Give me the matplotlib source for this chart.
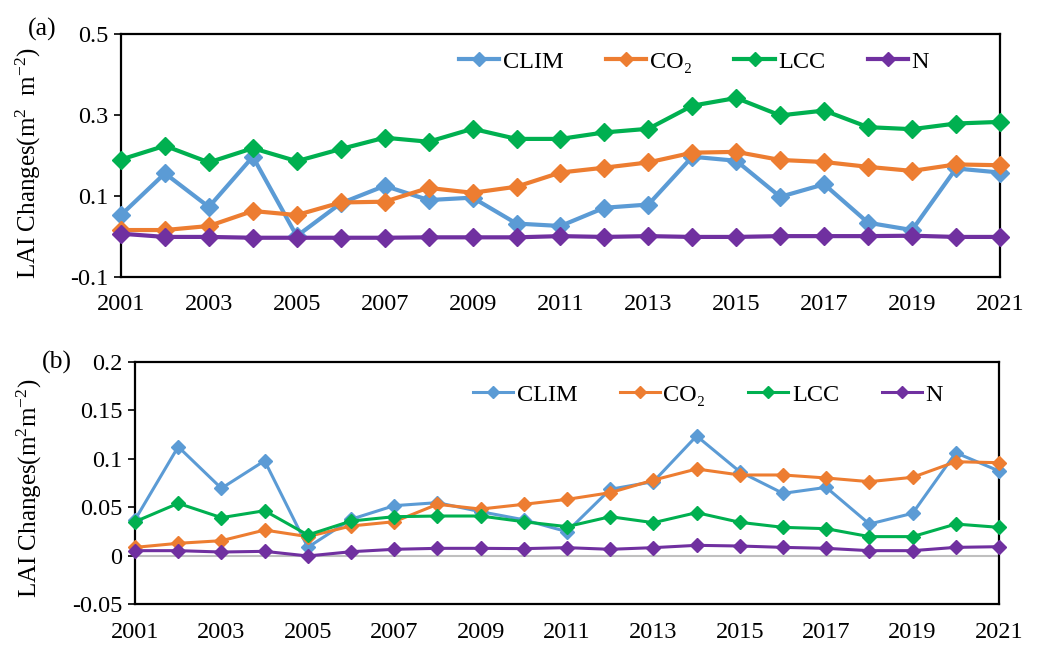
import matplotlib
matplotlib.use("Agg")
import matplotlib.pyplot as plt

plt.rcParams['font.family'] = ['Liberation Serif', 'DejaVu Serif']
plt.rcParams['mathtext.fontset'] = 'custom'
plt.rcParams['mathtext.rm'] = 'Liberation Serif'
plt.rcParams['mathtext.it'] = 'Liberation Serif'

years = list(range(2001, 2022))
series_names = ["CLIM", "CO₂", "LCC", "N"]
colors = ["#5B9BD5", "#ED7D31", "#00B050", "#7030A0"]

# Panel (a)
a_clim = [0.053, 0.156, 0.073, 0.197, 0.001, 0.082, 0.125, 0.090, 0.096, 0.032,
          0.026, 0.071, 0.079, 0.197, 0.187, 0.098, 0.129, 0.034, 0.016, 0.168, 0.158]
a_co2 = [0.016, 0.016, 0.026, 0.063, 0.053, 0.084, 0.086, 0.120, 0.108, 0.123,
         0.158, 0.170, 0.183, 0.207, 0.209, 0.189, 0.184, 0.172, 0.162, 0.178, 0.176]
a_lcc = [0.190, 0.224, 0.183, 0.218, 0.186, 0.216, 0.244, 0.234, 0.266, 0.241,
         0.241, 0.257, 0.266, 0.323, 0.342, 0.299, 0.311, 0.270, 0.265, 0.279, 0.283]
a_n = [0.007, -0.001, -0.001, -0.003, -0.003, -0.003, -0.003, -0.002, -0.002, -0.002,
       0.001, -0.001, 0.001, -0.001, -0.001, 0.001, 0.001, 0.001, 0.002, -0.001, -0.001]

# Panel (b)
b_clim = [0.037, 0.1125, 0.0695, 0.098, 0.0085, 0.0375, 0.0516, 0.0547, 0.0454, 0.037,
          0.0247, 0.0685, 0.0764, 0.1236, 0.0867, 0.0643, 0.0705, 0.0326, 0.0437, 0.1063, 0.0874]
b_co2 = [0.0085, 0.0127, 0.0154, 0.0264, 0.0196, 0.0306, 0.035, 0.053, 0.0481, 0.053,
         0.0581, 0.065, 0.078, 0.0895, 0.0833, 0.0833, 0.0802, 0.0764, 0.0809, 0.097, 0.096]
b_lcc = [0.035, 0.054, 0.0392, 0.0464, 0.0213, 0.0357, 0.0402, 0.0409, 0.0409, 0.035,
         0.0299, 0.0402, 0.034, 0.0444, 0.0344, 0.0292, 0.0278, 0.0196, 0.0196, 0.0326, 0.0292]
b_n = [0.0051, 0.0051, 0.0037, 0.0044, -0.0004, 0.004, 0.0065, 0.0075, 0.0075, 0.0072,
       0.0082, 0.0065, 0.0082, 0.0106, 0.0099, 0.0085, 0.0075, 0.0051, 0.0051, 0.0085, 0.0092]

a_yticks = [-0.1, 0.1, 0.3, 0.5]
a_ylabels = ["-0.1", "0.1", "0.3", "0.5"]
b_yticks = [-0.05, 0, 0.05, 0.1, 0.15, 0.2]
b_ylabels = ["-0.05", "0", "0.05", "0.1", "0.15", "0.2"]
xticks = list(range(2001, 2022, 2))

fig = plt.figure(figsize=(10.63, 6.5), dpi=100)
ax1 = fig.add_axes([0.1138, 0.5738, 0.9407 - 0.1138, 0.9477 - 0.5738])
ax2 = fig.add_axes([0.127, 0.0708, 0.9398 - 0.127, 0.443 - 0.0708])

FS = 17.5

def style(ax, yticks, ylabels, ylim, ylabel, xpad, lw_spine=1.6):
    ax.set_xlim(2001, 2021)
    ax.set_ylim(*ylim)
    ax.set_xticks(xticks)
    ax.set_xticklabels([str(x) for x in xticks], fontsize=FS)
    ax.set_yticks(yticks)
    ax.set_yticklabels(ylabels, fontsize=FS)
    ax.tick_params(axis='x', length=0, pad=xpad)
    ax.tick_params(axis='y', length=5, width=1.2, direction='out', pad=4)
    for s in ax.spines.values():
        s.set_linewidth(lw_spine)
        s.set_color('black')
    ax.set_ylabel(ylabel, fontsize=FS + 0.5)

data_a = [a_clim, a_co2, a_lcc, a_n]
data_b = [b_clim, b_co2, b_lcc, b_n]

for vals, name, c in zip(data_a, series_names, colors):
    ax1.plot(years, vals, color=c, lw=3, marker='D', ms=9, label=name, clip_on=False, zorder=3)
for vals, name, c in zip(data_b, series_names, colors):
    ax2.plot(years, vals, color=c, lw=2.2, marker='D', ms=7.5, label=name, clip_on=False, zorder=3)

ax2.axhline(0, color='#BFBFBF', lw=1.5, zorder=1)

style(ax1, a_yticks, a_ylabels, (-0.1, 0.5), r"LAI Changes(m$^{2}$  m$^{-2}$)", 12)
style(ax2, b_yticks, b_ylabels, (-0.05, 0.2), r"LAI Changes(m$^{2}$m$^{-2}$)", 13)
ax1.yaxis.set_label_coords(-0.089, 0.47)
ax2.yaxis.set_label_coords(-0.105, 0.48)

leg_kw = dict(loc='center', ncol=4, frameon=False, fontsize=FS, handlelength=1.65,
              handletextpad=0.15, columnspacing=1.75, borderaxespad=0, markerscale=0.75)
ax1.legend(bbox_to_anchor=(0.652, 0.885), **leg_kw)
ax2.legend(bbox_to_anchor=(0.663, 0.864), **leg_kw)

fig.text(42 / 1063, 1 - 29 / 650, "(a)", fontsize=FS + 1, ha='center', va='center')
fig.text(57 / 1063, 1 - 362 / 650, "(b)", fontsize=FS + 1, ha='center', va='center')

fig.savefig("out.png", dpi=100)
